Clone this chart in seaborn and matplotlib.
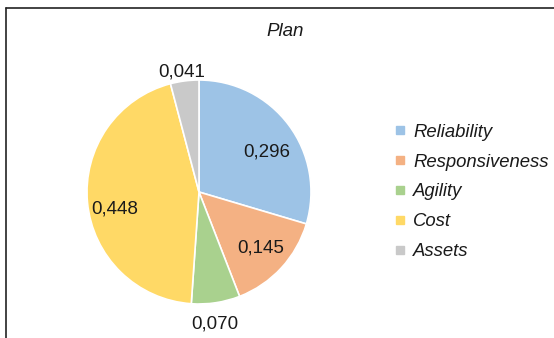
import numpy as np
import matplotlib
matplotlib.use("Agg")
import matplotlib.pyplot as plt
from matplotlib.lines import Line2D
import seaborn as sns

# Weights per performance attribute for the "Plan" process
categories = ["Reliability", "Responsiveness", "Agility", "Cost", "Assets"]
weights = [0.296, 0.145, 0.070, 0.448, 0.041]
value_labels = ["0,296", "0,145", "0,070", "0,448", "0,041"]
# placement of each value label: radial distance (fraction of radius)
# and angular nudge (degrees) from the wedge's mid-angle
label_dist = [0.71, 0.73, 1.165, 0.765, 1.105]
label_nudge = [-4.9, 1.9, -1.6, 4.6, 0.5]
colors = sns.color_palette(["#9DC3E6", "#F4B183", "#A9D18E", "#FFD966", "#C9C9C9"])

sns.set_style("white")
plt.rcParams["font.family"] = ["Liberation Sans", "DejaVu Sans"]

W, H = 554, 338
fig = plt.figure(figsize=(W / 100, H / 100), dpi=100)
fig.patch.set_facecolor("white")

# pie axes: centre (199, 192) px, radius 112 px
cx, cy, r = 199, 192, 112
ax = fig.add_axes([(cx - r) / W, (H - cy - r) / H, 2 * r / W, 2 * r / H])
wedges, _ = ax.pie(weights, colors=colors, startangle=90, counterclock=False,
                   wedgeprops=dict(edgecolor="white", linewidth=1.2))
ax.set_xlim(-1, 1)
ax.set_ylim(-1, 1)
ax.set_aspect("equal")
ax.axis("off")

for w, txt, d, nudge in zip(wedges, value_labels, label_dist, label_nudge):
    ang = np.deg2rad((w.theta1 + w.theta2) / 2 + nudge)
    ax.text(d * np.cos(ang), d * np.sin(ang) - 0.02, txt, ha="center",
            va="center", fontsize=13.5, color="#1a1a1a")

fig.text(285 / W, 1 - 32 / H, "Plan", ha="center", va="center",
         fontsize=13.5, fontstyle="italic", color="#1a1a1a")

handles = [Line2D([0], [0], marker="s", linestyle="none", markersize=5.5,
                  markerfacecolor=c, markeredgecolor=c) for c in colors]
leg = fig.legend(handles, categories, loc="center left",
                 bbox_to_anchor=(394 / W, 1 - 192 / H), frameon=False,
                 prop=dict(size=13.3, style="italic"), handlelength=0.6,
                 handletextpad=0.45, labelspacing=0.70, borderpad=0,
                 borderaxespad=0)
for t in leg.get_texts():
    t.set_color("#1a1a1a")

# partial outer frame: top and left edges
fig.add_artist(Line2D([6 / W, 1.0], [1 - 8 / H, 1 - 8 / H], color="#222222",
                      linewidth=1.2, transform=fig.transFigure))
fig.add_artist(Line2D([6 / W, 6 / W], [0.0, 1 - 8 / H], color="#222222",
                      linewidth=1.2, transform=fig.transFigure))

fig.savefig("out.png", dpi=100)
